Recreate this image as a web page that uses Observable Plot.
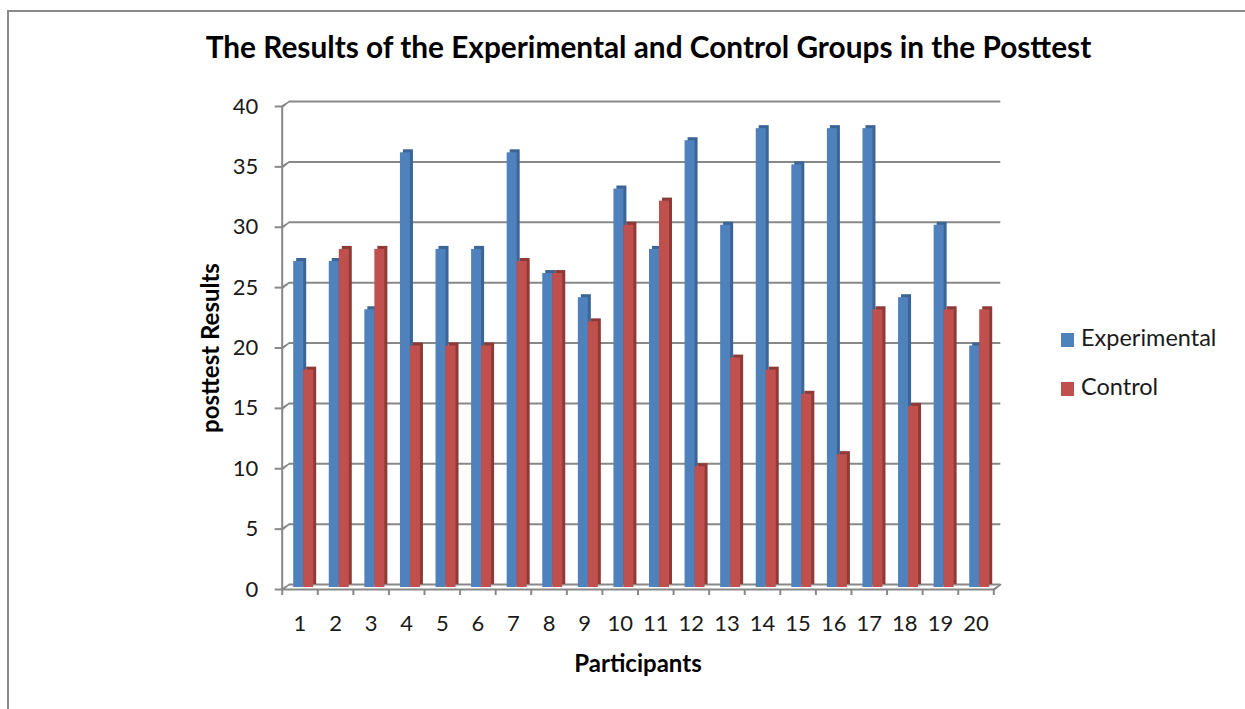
<!DOCTYPE html>
<html>
<head>
<meta charset="utf-8">
<script src="https://cdn.jsdelivr.net/npm/d3@7"></script>
<script src="https://cdn.jsdelivr.net/npm/@observablehq/plot@0.6"></script>
<style>
  body { margin: 0; background: #fff; }
  #chart { position: relative; width: 1245px; height: 709px; overflow: hidden; font-family: Lato, "Open Sans", sans-serif; background: #fff; }
  #frame { position: absolute; left: 7px; top: 10px; width: 1400px; height: 900px; border-left: 2px solid #8a8a8a; border-top: 2px solid #8a8a8a; }
  #title { position: absolute; left: 0; width: 1297px; top: 32px; text-align: center; font-weight: bold; font-size: 29.8px; line-height: 29.8px; color: #000; white-space: nowrap; }
  #plot { position: absolute; left: 0; top: 0; }
  .leg { position: absolute; left: 1061px; font-size: 23.5px; line-height: 23.5px; color: #1a1a1a; white-space: nowrap; }
  .leg span.sw { display: inline-block; width: 13px; height: 14px; margin-right: 7px; vertical-align: -1px; }
</style>
</head>
<body>
<div id="chart">
  <div id="frame"></div>
  <div id="plot"></div>
  <div id="title">The Results of the Experimental and Control Groups in the Posttest</div>
  <div id="legend"></div>
</div>
<script>
// ---- data ----
const participants = [1, 2, 3, 4, 5, 6, 7, 8, 9, 10, 11, 12, 13, 14, 15, 16, 17, 18, 19, 20];
const experimental = [27, 27, 23, 36, 28, 28, 36, 26, 24, 33, 28, 37, 30, 38, 35, 38, 38, 24, 30, 20];
const control      = [18, 28, 28, 20, 20, 20, 27, 26, 22, 30, 32, 10, 19, 18, 16, 11, 23, 15, 23, 23];
const seriesNames  = ["Experimental", "Control"];
const yTicks       = [0, 5, 10, 15, 20, 25, 30, 35, 40];
const xTitle = "Participants";
const yTitle = "posttest Results";

// ---- styles ----
const frontColors = ["#4F81BD", "#C0504D"];
const sideColors  = ["#3A6596", "#8E3A37"];
const gridColor = "#888888";

const rows = (values) => participants.map((p, i) => ({p, v: values[i]}));
const expRows = rows(experimental);
const ctlRows = rows(control);
const boundaries = [0.5].concat(participants.map(p => p + 0.5));

const plotLeft = 281.7, plotRight = 993.3, plotTop = 106, plotBottom = 589;
const step = (plotRight - plotLeft) / participants.length;

function barMarks(data, k, inL, inR) {
  const base = {x1: d => d.p - 0.5, x2: d => d.p + 0.5, y1: 0, y2: "v", insetLeft: inL, insetRight: inR};
  return [
    Plot.rect(data, {...base, dx: 3, dy: -5, fill: sideColors[k]}),
    Plot.rect(data, {...base, dx: 0, dy: -2, fill: frontColors[k]})
  ];
}

const chart = Plot.plot({
  width: 1245,
  height: 709,
  marginLeft: plotLeft,
  marginRight: 1245 - plotRight,
  marginTop: plotTop,
  marginBottom: 709 - plotBottom,
  style: {fontFamily: "Lato, 'Open Sans', sans-serif", fontSize: "22px", color: "#1a1a1a", background: "transparent", overflow: "visible"},
  x: {type: "linear", domain: [0.5, 20.5]},
  y: {domain: [0, 40]},
  marks: [
    // back wall gridlines
    Plot.ruleY(yTicks, {x1: 0.5, x2: 20.5, dx: 7, dy: -5, stroke: gridColor, strokeWidth: 2}),
    // side wall connectors
    Plot.vector(yTicks, {x: 0.5, y: d => d, length: 8.6, rotate: 54.5, shape: "spike", r: 0.6, anchor: "start", fill: gridColor, stroke: gridColor, strokeWidth: 1.4}),
    Plot.vector([0], {x: 20.5, y: d => d, length: 8.6, rotate: 54.5, shape: "spike", r: 0.6, anchor: "start", fill: gridColor, stroke: gridColor, strokeWidth: 1.4}),
    // bars
    ...barMarks(expRows, 0, 11.5, step - 21.5),
    ...barMarks(ctlRows, 1, 21.5, step - 31.5),
    // front axes
    Plot.ruleX([0.5], {y1: 0, y2: 40, stroke: gridColor, strokeWidth: 2}),
    Plot.ruleY([0], {x1: 0.5, x2: 20.5, stroke: gridColor, strokeWidth: 2}),
    Plot.axisY({ticks: yTicks, tickSize: 7, tickPadding: 17, label: null, stroke: gridColor, strokeWidth: 2, fill: "#1a1a1a"}),
    Plot.axisX({ticks: boundaries, tickSize: 6, tickFormat: () => "", label: null, stroke: gridColor, strokeWidth: 2}),
    Plot.axisX({ticks: participants, tickSize: 0, tickPadding: 26, label: null, tickFormat: d => String(d), fill: "#1a1a1a"}),
    // axis titles
    Plot.text([xTitle], {frameAnchor: "bottom", dy: 75, text: d => d, textAnchor: "middle", lineAnchor: "middle", fontWeight: "bold", fontSize: 24, fill: "#000"}),
    Plot.text([yTitle], {frameAnchor: "left", dx: -71, rotate: -90, text: d => d, textAnchor: "middle", lineAnchor: "middle", fontWeight: "bold", fontSize: 24, fill: "#000"})
  ]
});
document.getElementById("plot").appendChild(chart);

// legend
const legend = document.getElementById("legend");
const legTops = [326, 375];
seriesNames.forEach((name, k) => {
  const div = document.createElement("div");
  div.className = "leg";
  div.style.top = legTops[k] + "px";
  const sw = document.createElement("span");
  sw.className = "sw";
  sw.style.background = frontColors[k];
  div.appendChild(sw);
  div.appendChild(document.createTextNode(name));
  legend.appendChild(div);
});
</script>
</body>
</html>
